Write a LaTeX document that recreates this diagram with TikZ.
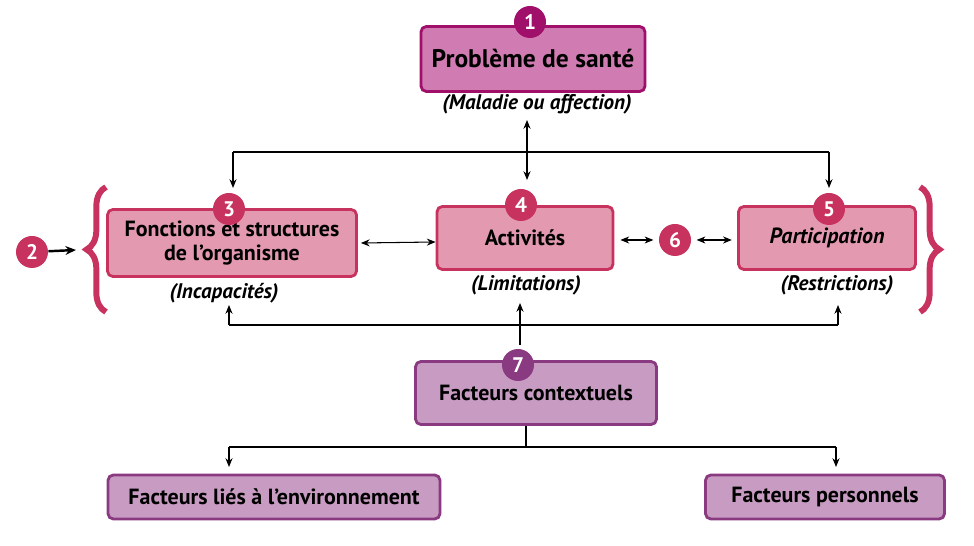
\documentclass[tikz,border=0pt]{standalone}
\usepackage{fontspec}
\setmainfont{PT Sans}
\usetikzlibrary{positioning,decorations.pathreplacing,arrows.meta}
\definecolor{prune}{HTML}{A0106A}
\definecolor{pruneclair}{HTML}{D07CB2}
\definecolor{rose}{HTML}{C8325E}
\definecolor{roseclair}{HTML}{E39AB0}
\definecolor{mauve}{HTML}{8A3A80}
\definecolor{mauveclair}{HTML}{C89CC2}
\tikzset{
  boite/.style={draw, line width=1.6pt, rounded corners=3pt, align=center, font=\bfseries\fontsize{12.5}{14}\selectfont},
  pastille/.style={circle, fill=#1, text=white, inner sep=0pt, minimum size=0.64cm, font=\bfseries\large},
  legende/.style={font=\bfseries\itshape\fontsize{12}{14}\selectfont},
  fl/.style={-{Stealth[length=5pt,width=4pt]}, line width=0.6pt},
  dfl/.style={{Stealth[length=5pt,width=4pt]}-{Stealth[length=5pt,width=4pt]}, line width=0.6pt},
  accolade/.style={rose, line width=3.4pt, decorate, decoration={brace, amplitude=11pt}}
}
\begin{document}
\begin{tikzpicture}[x=0.02cm,y=-0.02cm]
	\useasboundingbox (0,0) rectangle (974,546);
	% boites
	\node[boite, draw=prune, fill=pruneclair, minimum width=4.48cm, minimum height=1.3cm, font=\bfseries\fontsize{14.5}{16}\selectfont] (sante) at (533,59) {Problème de santé};
	\node[boite, draw=rose, fill=roseclair, minimum width=4.98cm, minimum height=1.34cm] (fonctions) at (232,243) {Fonctions et structures\\de l’organisme};
	\node[boite, draw=rose, fill=roseclair, minimum width=3.52cm, minimum height=1.26cm] (activites) at (525,238) {Activités};
	\node[boite, draw=rose, fill=roseclair, minimum width=3.54cm, minimum height=1.26cm, font=\bfseries\itshape\fontsize{12.5}{14}\selectfont] (particip) at (827,238) {Participation};
	\node[boite, draw=mauve, fill=mauveclair, minimum width=4.82cm, minimum height=1.26cm] (contexte) at (536,393) {Facteurs contextuels};
	\node[boite, draw=mauve, fill=mauveclair, minimum width=6.64cm, minimum height=0.88cm] (environ) at (274,497) {Facteurs liés à l’environnement};
	\node[boite, draw=mauve, fill=mauveclair, minimum width=4.78cm, minimum height=0.88cm] (perso) at (825,497) {Facteurs personnels};
	% legendes
	\node[legende] (maladie) at (537,104) {(Maladie ou affection)};
	\node[legende] (incap) at (224,293) {(Incapacités)};
	\node[legende] (limit) at (526,285) {(Limitations)};
	\node[legende] (restr) at (837,285) {(Restrictions)};
	% accolades
	\draw[accolade] (106,312) -- (106,187);
	\draw[accolade] (920,187) -- (920,312);
	% fleches du haut
	\coordinate (hg) at (233,152);
	\coordinate (hd) at (829,152);
	\draw[dfl] (527,120) -- (527,180);
	\draw[line width=0.6pt] (hg) -- (hd);
	\draw[fl] (hg) -- (233,188);
	\draw[fl] (hd) -- (829,188);
	\draw[dfl] (fonctions.east) ++(3,0) -- (activites.west |- 0,242);
	% fleches du bas
	\coordinate (bg) at (229,325);
	\coordinate (bd) at (838,325);
	\draw[line width=0.6pt] (bg) -- (bd);
	\draw[fl] (bg) -- (229,305);
	\draw[fl] (bd) -- (838,305);
	\draw[fl] (520,345) -- (520,303);
	\coordinate (cb) at (526,447);
	\draw[line width=0.6pt] (contexte.south -| cb) -- (cb);
	\draw[line width=0.6pt] (229,447) -- (836,447);
	\draw[fl] (229,447) -- (229,467);
	\draw[fl] (836,447) -- (836,467);
	% pastilles
	\node[pastille=prune] (p1) at (530,22) {1};
	\node[pastille=rose] (p2) at (32,252) {2};
	\node[pastille=rose] (p3) at (229,209) {3};
	\node[pastille=rose] (p4) at (521,205) {4};
	\node[pastille=rose] (p5) at (829,209) {5};
	\node[pastille=rose] (p6) at (675,240) {6};
	\node[pastille=mauve] (p7) at (518,365) {7};
	\draw[-{Stealth[length=6pt,width=5pt]}, line width=1.4pt] (p2) -- (76,250);
	\draw[dfl] (activites.east |- p6) ++(6,0) -- ([xshift=-3pt]p6.west);
	\draw[dfl] ([xshift=3pt]p6.east) -- ([xshift=-3pt]particip.west |- p6);
\end{tikzpicture}
\end{document}
